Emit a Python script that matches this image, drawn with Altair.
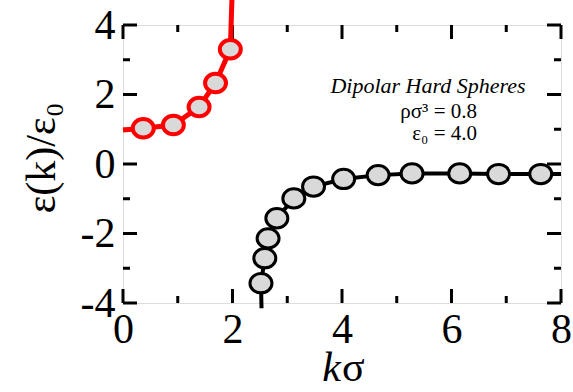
import altair as alt
import pandas as pd

# ---- data ----
red_k = [0.37, 0.92, 1.39, 1.69, 1.96]
red_eps = [1.03, 1.12, 1.64, 2.33, 3.30]
# line continues to the frame on the left and beyond the top
red_line_k = [0.0] + red_k + [1.99]
red_line_eps = [0.98] + red_eps + [4.75]

black_k = [2.52, 2.59, 2.65, 2.81, 3.12, 3.48, 4.03, 4.66, 5.28, 6.15, 6.86, 7.63]
black_eps = [-3.43, -2.71, -2.14, -1.56, -0.99, -0.65, -0.43, -0.32, -0.27, -0.27, -0.29, -0.29]
black_line_k = [2.53] + black_k + [8.0]
black_line_eps = [-4.15] + black_eps + [-0.29]

x_major = [0, 2, 4, 6, 8]
x_minor = [1, 3, 5, 7]
y_major = [-4, -2, 0, 2, 4]
y_minor = [-3, -1, 1, 3]

W, H = 438, 278
MAJ, MIN = 14, 7
FONT = "Liberation Serif"

xs = alt.Scale(domain=[0, 8], nice=False, zero=False)
ys = alt.Scale(domain=[-4, 4], nice=False, zero=False)

xaxis = alt.Axis(values=x_major, ticks=False, domain=False, grid=False,
                 labelFont=FONT, labelFontSize=42, labelColor="black",
                 labelPadding=6, labelFlush=False, labelOverlap=False,
                 labelExpr="'' + datum.value", title="")
yaxis = alt.Axis(values=y_major, ticks=False, domain=False, grid=False,
                 labelFont=FONT, labelFontSize=42, labelColor="black",
                 labelPadding=8, labelFlush=False, labelOverlap=False,
                 labelExpr="'' + datum.value", title="")

def X():
    return alt.X("k:Q", scale=xs, axis=xaxis, title="")

def Y():
    return alt.Y("eps:Q", scale=ys, axis=yaxis, title="")

red_pts = pd.DataFrame({"k": red_k, "eps": red_eps})
red_ln = pd.DataFrame({"k": red_line_k, "eps": red_line_eps, "o": range(len(red_line_k))})
blk_pts = pd.DataFrame({"k": black_k, "eps": black_eps})
blk_ln = pd.DataFrame({"k": black_line_k, "eps": black_line_eps, "o": range(len(black_line_k))})

def xticks(vals, length):
    d = pd.DataFrame({"k": vals})
    bot = alt.Chart(d).mark_rule(color="black", strokeWidth=3).encode(
        x=X(), y=alt.value(H), y2=alt.value(H - length))
    top = alt.Chart(d).mark_rule(color="black", strokeWidth=3).encode(
        x=X(), y=alt.value(0), y2=alt.value(length))
    return bot + top

def yticks(vals, length):
    d = pd.DataFrame({"eps": vals})
    left = alt.Chart(d).mark_rule(color="black", strokeWidth=3).encode(
        y=Y(), x=alt.value(0), x2=alt.value(length))
    right = alt.Chart(d).mark_rule(color="black", strokeWidth=3).encode(
        y=Y(), x=alt.value(W), x2=alt.value(W - length))
    return left + right

ticks = xticks(x_major, MAJ) + xticks(x_minor, MIN) + yticks(y_major, MAJ) + yticks(y_minor, MIN)

ELLIPSE = "M -1 0 A 1 0.88 0 1 0 1 0 A 1 0.88 0 1 0 -1 0 Z"

red_line = alt.Chart(red_ln).mark_line(color="#ff0000", strokeWidth=5, clip=False).encode(
    x=X(), y=Y(), order="o:Q")
red_mark = alt.Chart(red_pts).mark_point(shape=ELLIPSE, size=440, filled=True, fill="#d9d9d9",
                                         stroke="#ff0000", strokeWidth=4, opacity=1).encode(
    x=X(), y=Y())
blk_line = alt.Chart(blk_ln).mark_line(color="black", strokeWidth=4, clip=False).encode(
    x=X(), y=Y(), order="o:Q")
blk_mark = alt.Chart(blk_pts).mark_point(shape=ELLIPSE, size=484, filled=True, fill="#d9d9d9",
                                         stroke="black", strokeWidth=3, opacity=1).encode(
    x=X(), y=Y())

one = pd.DataFrame({"a": [0]})

def txt(text, x, y, size, style="normal", align="center", baseline="alphabetic", angle=0):
    return alt.Chart(one).mark_text(text=text, font=FONT, fontSize=size, fontStyle=style,
                                    align=align, baseline=baseline, angle=angle,
                                    color="black").encode(x=alt.value(x), y=alt.value(y))

titles = (
    txt("k", 218, 356, 42, style="italic", align="right")
    + txt("σ", 219, 356, 42, align="left")
    + txt("ε(k)/ε₀", -81, 133, 42, baseline="middle", angle=270)
    + txt("Dipolar Hard Spheres", 305, 68, 22, style="italic")
    + txt("ρσ³ = 0.8", 354, 93, 21, align="right")
    + txt("ε₀ = 4.0", 354, 115, 21, align="right")
)

chart = alt.layer(ticks, red_line, blk_line, red_mark, blk_mark, titles).properties(
    width=W, height=H,
    autosize=alt.AutoSizeParams(type="none"),
    padding={"left": 123, "top": 25, "right": 12, "bottom": 89},
).configure_view(stroke="black", strokeWidth=4).configure_axis(
    labelFont=FONT, labelFontSize=42, labelColor="black"
).configure(background="white")

chart.save("out.html", embed_options={"renderer": "svg", "actions": False})
